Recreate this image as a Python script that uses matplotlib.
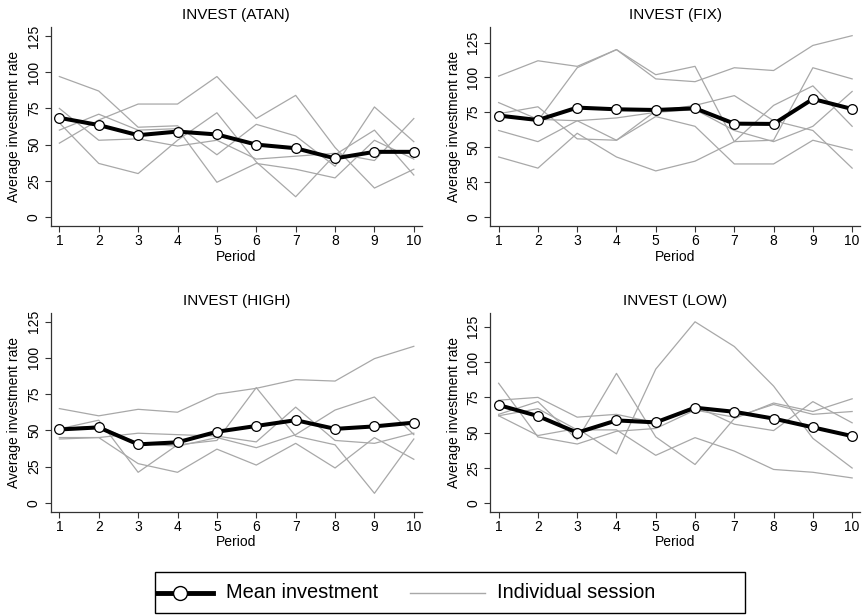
import matplotlib
matplotlib.use('Agg')
import matplotlib.pyplot as plt
from matplotlib.lines import Line2D
from matplotlib.patches import Rectangle

plt.rcParams['font.family'] = ['Liberation Sans', 'DejaVu Sans']

periods = [1, 2, 3, 4, 5, 6, 7, 8, 9, 10]
yticks = [0, 25, 50, 75, 100, 125]

atan_mean = [68.5, 63.5, 56.5, 59, 57, 50, 47.5, 40.5, 45, 45]
atan_sessions = [
    [97, 87, 62, 63, 43, 64, 56, 35, 76, 52],
    [51, 67, 78, 78, 97, 68, 84, 48, 20, 33],
    [75, 53, 54, 49, 53, 40, 42, 44, 39, 68],
    [65, 37, 30, 53, 72, 38, 14, 43, 60, 29],
    [60, 71, 60, 61, 24, 37, 33, 27, 53, 40],
]

fix_mean = [72.7, 69.5, 78.4, 77.2, 76.7, 77.9, 66.9, 66.7, 84.6, 77.4]
fix_sessions = [
    [101, 112, 108, 120, 102, 108, 54, 55, 107, 99],
    [72, 69, 107, 120, 99, 97, 107, 105, 123, 130],
    [74, 79, 56, 55, 76, 80, 87, 69, 62, 35],
    [62, 54, 69, 55, 72, 65, 38, 38, 55, 48],
    [43, 35, 60, 43, 33, 40, 54, 80, 94, 65],
    [82, 70, 69, 71, 75, 77, 62, 54, 65, 90],
]

high_mean = [50.6, 52, 40.3, 41.7, 49, 53, 57, 51, 52.7, 55.3]
high_sessions = [
    [65, 60, 64.5, 62.5, 75, 79, 85, 84, 99.5, 108],
    [51, 57, 21, 40, 43, 79.5, 46, 40, 6.5, 44],
    [44, 45, 27, 21, 37, 26, 41, 24, 45, 30],
    [45, 45, 48, 47, 46, 42, 66, 43, 41, 48],
    [51, 53, 41, 39, 45, 38, 47, 64, 73, 47],
]

low_mean = [69.6, 61.8, 50, 58.7, 57.3, 67.7, 64.8, 60, 53.8, 47.6]
low_sessions = [
    [85, 47, 42, 51, 53, 66, 61, 70, 63, 65],
    [62, 48, 53, 35, 95, 128.5, 111, 83, 46, 25],
    [73, 75, 61, 63, 57, 69, 56, 51.5, 72, 57],
    [63, 72, 45, 92, 47, 27.5, 60, 71, 65, 74],
    [62, 67, 52, 52, 34, 46.5, 37, 24, 22, 18],
]

titles = ['INVEST (ATAN)', 'INVEST (FIX)', 'INVEST (HIGH)', 'INVEST (LOW)']
means = [atan_mean, fix_mean, high_mean, low_mean]
sessions = [atan_sessions, fix_sessions, high_sessions, low_sessions]

W, H = 863, 616
fig = plt.figure(figsize=(W / 100, H / 100), dpi=100)

# pixel boxes: left, top, right, bottom ; y limits
boxes = [
    (50.7, 27.0, 421.7, 226.0),
    (490.0, 27.3, 860.0, 226.0),
    (50.7, 313.3, 421.7, 511.7),
    (490.0, 313.3, 860.0, 511.7),
]
ylims = [(-6.2, 131.2), (-6.5, 136.0), (-6.2, 130.8), (-5.9, 134.5)]

gray = '#a8a8a8'
for i in range(4):
    l, t, r, b = boxes[i]
    ax = fig.add_axes([l / W, 1 - b / H, (r - l) / W, (b - t) / H])
    for s in sessions[i]:
        ax.plot(periods, s, color=gray, lw=0.9, zorder=2)
    ax.plot(periods, means[i], color='black', lw=2.9, marker='o', ms=7,
            mfc='white', mec='black', mew=0.9, zorder=3)
    ax.set_xlim(0.78, 10.2)
    ax.set_ylim(*ylims[i])
    ax.set_xticks(periods)
    ax.set_yticks(yticks)
    for sp in ['top', 'right']:
        ax.spines[sp].set_visible(False)
    for sp in ['left', 'bottom']:
        ax.spines[sp].set_color('#333333')
        ax.spines[sp].set_linewidth(0.9)
    ax.tick_params(axis='both', direction='out', length=4, width=0.8,
                   color='#333333', labelsize=10)
    ax.tick_params(axis='y', pad=3)
    ax.tick_params(axis='x', pad=2)
    for lab in ax.get_yticklabels():
        lab.set_rotation(90)
        lab.set_va('center')
    ax.set_xlabel('Period', fontsize=10, labelpad=1)
    ax.set_ylabel('Average investment rate', fontsize=10, labelpad=4)
    ax.set_title(titles[i], fontsize=11, pad=6)
    ax.patch.set_visible(False)

# legend box
lx0, ly0, lx1, ly1 = 155, 572, 745, 613
lax = fig.add_axes([lx0 / W, 1 - ly1 / H, (lx1 - lx0) / W, (ly1 - ly0) / H])
lax.set_xlim(lx0, lx1)
lax.set_ylim(ly1, ly0)
lax.axis('off')
lax.add_patch(Rectangle((lx0, ly0), lx1 - lx0, ly1 - ly0, fill=False,
                        edgecolor='black', lw=1.0, clip_on=False))
ym = (ly0 + ly1) / 2
lax.add_line(Line2D([156, 213], [ym, ym], color='black', lw=3.5))
lax.add_line(Line2D([180], [ym], marker='o', ms=10, mfc='white', mec='black',
                    mew=1.0, lw=0))
lax.text(226, ym, 'Mean investment', fontsize=14.4, va='center', ha='left')
lax.add_line(Line2D([410, 485], [ym, ym], color=gray, lw=1.0))
lax.text(497, ym, 'Individual session', fontsize=14.4, va='center', ha='left')

fig.savefig('out.png', dpi=100)
